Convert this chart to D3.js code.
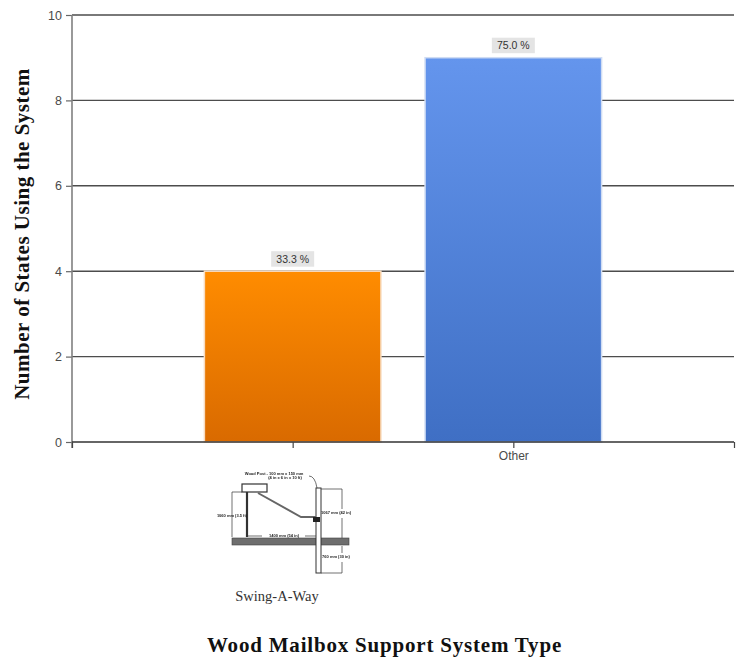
<!DOCTYPE html>
<html>
<head>
<meta charset="utf-8">
<script src="https://cdn.jsdelivr.net/npm/d3@7/dist/d3.min.js"></script>
<style>
  html, body { margin: 0; padding: 0; background: #fff; }
  svg { display: block; }
</style>
</head>
<body>
<script>
// Chart data
const categories = ["Swing-A-Way", "Other"];
const tickLabels = ["", "Other"];
const stateCounts = [4, 9];
const percentLabels = ["33.3 %", "75.0 %"];
const barTop = ["#ff8c00", "#6495ed"];
const barBottom = ["#d96a00", "#3f6fc4"];
const yTicks = [0, 2, 4, 6, 8, 10];

const width = 737, height = 660;
const svg = d3.select("body").append("svg").attr("width", width).attr("height", height);

const x = d3.scaleLinear().domain([0, categories.length + 1]).range([72, 734]);
const y = d3.scaleLinear().domain([0, 10]).range([442, 15]);
const barWidth = 0.8;

// Vertical gradients for the bars, plus a slight softening for the scanned sketch
const defs = svg.append("defs");
categories.forEach((c, i) => {
  const g = defs.append("linearGradient").attr("id", "bar" + i)
    .attr("x1", 0).attr("y1", 0).attr("x2", 0).attr("y2", 1);
  g.append("stop").attr("offset", "0%").attr("stop-color", barTop[i]);
  g.append("stop").attr("offset", "100%").attr("stop-color", barBottom[i]);
});
defs.append("filter").attr("id", "soft").append("feGaussianBlur").attr("stdDeviation", 0.45);

// Horizontal grid lines
svg.append("g").selectAll("line").data(yTicks.filter(d => d > 0)).join("line")
  .attr("x1", x(0)).attr("x2", x(3))
  .attr("y1", d => y(d)).attr("y2", d => y(d))
  .attr("stroke", "#4d4d4d").attr("stroke-width", 1.4);

// Bars
svg.append("g").selectAll("rect").data(stateCounts).join("rect")
  .attr("x", (d, i) => x(i + 1 - barWidth / 2))
  .attr("width", x(barWidth) - x(0))
  .attr("y", d => y(d))
  .attr("height", d => y(0) - y(d))
  .attr("fill", (d, i) => `url(#bar${i})`)
  .attr("stroke", (d, i) => i === 0 ? "#f8dcc0" : "#cfdcf3")
  .attr("stroke-width", 1.5);

// Value axis
const yAxis = svg.append("g").attr("transform", `translate(${x(0)},0)`)
  .call(d3.axisLeft(y).tickValues(yTicks).tickSize(6).tickPadding(4).tickFormat(d3.format("d")));
yAxis.select(".domain").remove();
yAxis.selectAll("line").attr("stroke", "#666").attr("stroke-width", 1.2);
yAxis.selectAll("text").attr("font-family", "Liberation Sans").attr("font-size", 12.5).attr("fill", "#4a4a4a");
svg.append("line").attr("x1", x(0)).attr("x2", x(0)).attr("y1", y(10)).attr("y2", y(0) + 6)
  .attr("stroke", "#808080").attr("stroke-width", 1.6);

// Category axis
const xAxis = svg.append("g").attr("transform", `translate(0,${y(0)})`)
  .call(d3.axisBottom(x).tickValues([0, 1, 2, 3]).tickSize(6).tickPadding(3)
    .tickFormat(d => tickLabels[d - 1] || ""));
xAxis.select(".domain").attr("stroke", "#333").attr("stroke-width", 1.4).attr("d", `M${x(0)},0H${x(3)}`);
xAxis.selectAll("line").attr("stroke", "#444").attr("stroke-width", 1.2);
xAxis.selectAll("text").attr("font-family", "Liberation Sans").attr("font-size", 12).attr("fill", "#4a4a4a");

// Percentage labels above each bar
const labels = svg.append("g").selectAll("g").data(stateCounts).join("g")
  .attr("transform", (d, i) => `translate(${x(i + 1)},${y(d)})`);
labels.append("rect").attr("x", -21.5).attr("y", -20).attr("width", 43).attr("height", 15.5).attr("fill", "#e4e4e4");
labels.append("text").attr("y", -8.5).attr("text-anchor", "middle")
  .attr("font-family", "Liberation Sans").attr("font-size", 10.5).attr("fill", "#333")
  .text((d, i) => percentLabels[i]);

// Axis titles
svg.append("text").attr("transform", "translate(29,234) rotate(-90)").attr("text-anchor", "middle")
  .attr("font-family", "Liberation Serif").attr("font-weight", "bold").attr("font-size", 21)
  .attr("letter-spacing", 0.5).attr("fill", "#111")
  .text("Number of States Using the System");
svg.append("text").attr("x", 384.5).attr("y", 652).attr("text-anchor", "middle")
  .attr("font-family", "Liberation Serif").attr("font-weight", "bold").attr("font-size", 21)
  .attr("letter-spacing", 0.8).attr("fill", "#111")
  .text("Wood Mailbox Support System Type");

// Engineering sketch of the swing-away support under the first category
const sketch = svg.append("g").attr("filter", "url(#soft)").attr("fill", "none").attr("stroke", "#333");
sketch.append("rect").attr("x", 232).attr("y", 538).attr("width", 117).attr("height", 7)
  .attr("fill", "#6e6e6e").attr("stroke", "#444").attr("stroke-width", 0.6);
sketch.append("rect").attr("x", 316).attr("y", 488).attr("width", 5).attr("height", 85)
  .attr("fill", "#fff").attr("stroke-width", 1);
sketch.append("rect").attr("x", 242).attr("y", 484).attr("width", 25).attr("height", 8)
  .attr("fill", "#fff").attr("stroke-width", 1.2);
sketch.append("path").attr("d", "M247,492V537").attr("stroke-width", 2.2);
sketch.append("path").attr("d", "M258,493L301,517H316").attr("stroke", "#666").attr("stroke-width", 2);
sketch.append("rect").attr("x", 313).attr("y", 517).attr("width", 7).attr("height", 5).attr("fill", "#222").attr("stroke", "none");
sketch.append("path").attr("stroke-width", 0.7)
  .attr("d", "M232,492V537M232,492H242M321,489H342V509M342,518V538M342,546V553M342,562V573M321,573H342M247,536H262M305,536H316M309,476Q315,476 317,488");

const notes = [
  ["Wood Post - 100 mm x 150 mm", 274, 474.5],
  ["(4 in x 6 in x 10 ft)", 285, 479],
  ["1060 mm (3.5 ft)", 232, 517],
  ["1400 mm (54 in)", 284, 536.5],
  ["1067 mm (42 in)", 336, 514],
  ["760 mm (30 in)", 336, 557.5]
];
sketch.append("g").selectAll("text").data(notes).join("text")
  .attr("x", d => d[1]).attr("y", d => d[2]).attr("text-anchor", "middle")
  .attr("font-family", "Liberation Sans").attr("font-weight", "bold").attr("font-size", 4)
  .attr("fill", "#222").attr("stroke", "none").text(d => d[0]);

svg.append("text").attr("x", 277).attr("y", 601).attr("text-anchor", "middle")
  .attr("font-family", "Liberation Serif").attr("font-size", 14.5).attr("fill", "#333")
  .text(categories[0]);
</script>
</body>
</html>
